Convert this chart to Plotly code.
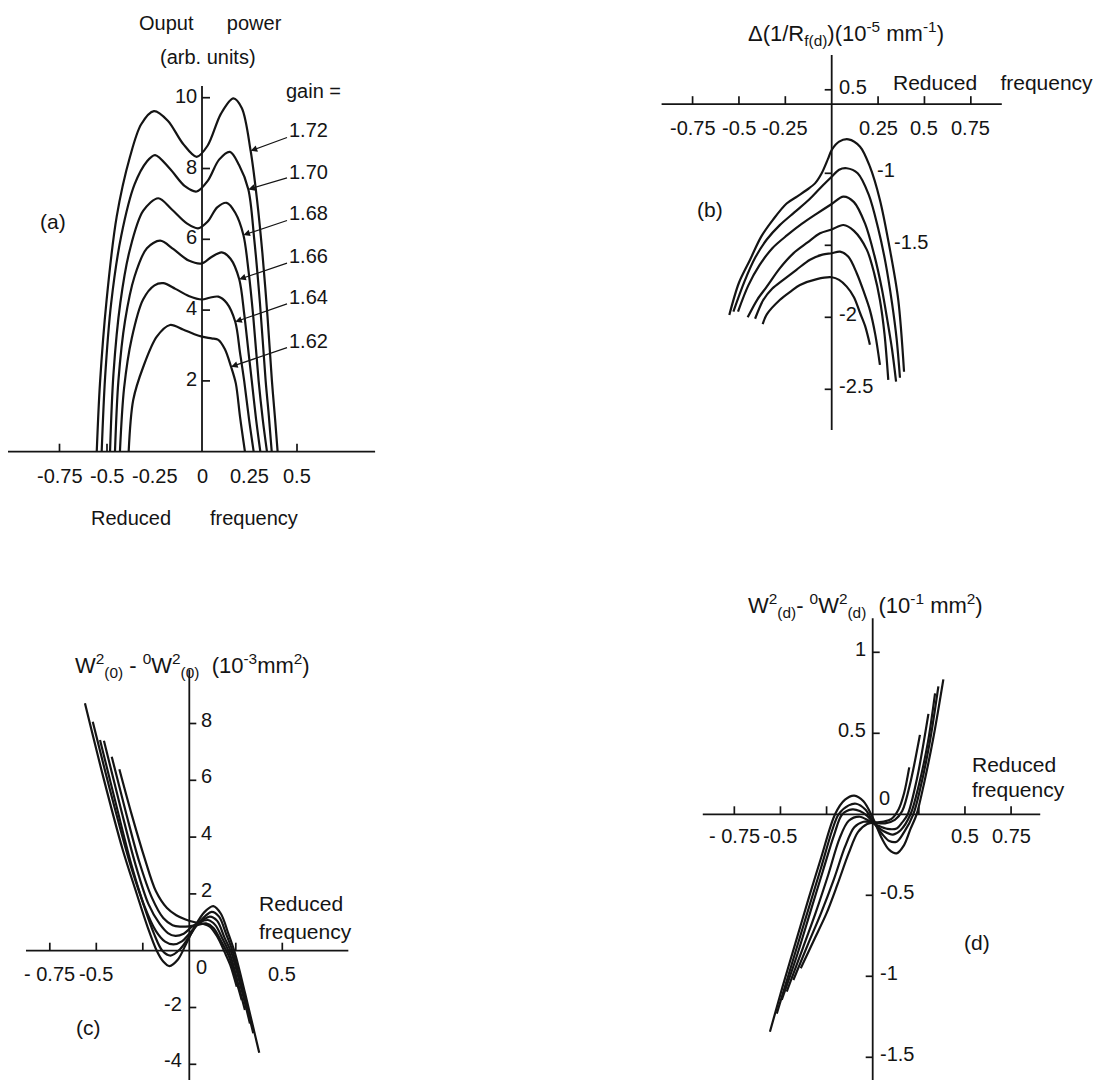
import plotly.graph_objects as go

W, H = 1099, 1080
FONT = "Liberation Sans"
INK = "#141414"
NB = "\u00a0"

# ---------------- (a) Output power vs reduced frequency ----------------
gain_labels = ["1.72", "1.70", "1.68", "1.66", "1.64", "1.62"]
a_x_172 = [-0.554, -0.537, -0.502, -0.449, -0.379, -0.32, -0.253, -0.18, -0.10, -0.028, 0.03, 0.10, 0.165, 0.21, 0.256, 0.29, 0.318, 0.345, 0.368, 0.385, 0.398]
a_y_172 = [0, 1.93, 4.29, 6.64, 8.33, 9.25, 9.62, 9.35, 8.7, 8.33, 8.65, 9.55, 9.98, 9.7, 8.5, 7.1, 5.6, 3.8, 2.0, 0.9, 0]
a_x_170 = [-0.528, -0.51, -0.478, -0.425, -0.355, -0.29, -0.247, -0.17, -0.09, -0.028, 0.03, 0.09, 0.147, 0.195, 0.244, 0.275, 0.305, 0.335, 0.352, 0.367]
a_y_170 = [0, 2.1, 4.2, 6.1, 7.55, 8.2, 8.38, 8.0, 7.5, 7.35, 7.65, 8.25, 8.47, 8.1, 7.41, 6.0, 4.2, 2.0, 1.0, 0]
a_x_168 = [-0.484, -0.466, -0.43, -0.38, -0.31, -0.23, -0.16, -0.08, -0.02, 0.03, 0.08, 0.13, 0.175, 0.218, 0.245, 0.27, 0.298, 0.32, 0.342]
a_y_168 = [0, 2.2, 4.2, 5.7, 6.8, 7.16, 6.85, 6.45, 6.31, 6.5, 6.9, 7.03, 6.75, 6.12, 5.1, 3.8, 2.0, 0.9, 0]
a_x_166 = [-0.458, -0.44, -0.405, -0.355, -0.29, -0.22, -0.15, -0.07, 0.0, 0.05, 0.104, 0.15, 0.196, 0.222, 0.245, 0.262, 0.285, 0.307]
a_y_166 = [0, 2.0, 3.7, 4.95, 5.75, 5.96, 5.72, 5.4, 5.32, 5.5, 5.63, 5.45, 4.87, 3.9, 2.8, 2.0, 0.9, 0]
a_x_164 = [-0.432, -0.41, -0.37, -0.31, -0.25, -0.204, -0.14, -0.07, 0.0, 0.04, 0.086, 0.13, 0.175, 0.2, 0.222, 0.248, 0.272]
a_y_164 = [0, 1.8, 3.2, 4.3, 4.7, 4.76, 4.6, 4.4, 4.30, 4.35, 4.38, 4.2, 3.67, 2.8, 2.0, 0.9, 0]
a_x_162 = [-0.386, -0.362, -0.309, -0.238, -0.168, -0.10, -0.04, 0.0, 0.05, 0.086, 0.12, 0.153, 0.178, 0.2, 0.226]
a_y_162 = [0, 1.46, 2.4, 3.25, 3.58, 3.45, 3.32, 3.25, 3.2, 3.16, 2.9, 2.40, 1.93, 0.99, 0]
a_arrow_tip_index = [14, 14, 13, 12, 12, 11]
a_label_x = 0.558
a_label_y = [9.09, 7.91, 6.73, 5.53, 4.38, 3.14]
a_xticks = [-0.75, -0.5, 0.5]
a_xlabel_vals = [-0.75, -0.5, -0.25, 0, 0.25, 0.5]
a_xlabel_text = ["-0.75", "-0.5", "-0.25", "0", "0.25", "0.5"]
a_yticks = [2, 4, 6, 8, 10]
a_ylabel_text = ["2", "4", "6", "8", "10"]

# ---------------- (b) Delta(1/Rf(d)) ----------------
b_x_1 = [-0.552, -0.50, -0.44, -0.38, -0.315, -0.243, -0.185, -0.135, -0.09, -0.054, -0.02, 0.0, 0.04, 0.09, 0.153, 0.206, 0.26, 0.314, 0.359, 0.39]
b_y_1 = [-1.984, -1.76, -1.60, -1.44, -1.32, -1.21, -1.16, -1.116, -1.07, -1.0, -0.90, -0.838, -0.78, -0.764, -0.815, -0.954, -1.185, -1.53, -1.88, -2.378]
b_x_2 = [-0.53, -0.47, -0.41, -0.35, -0.28, -0.2, -0.12, -0.06, 0.0, 0.04, 0.081, 0.14, 0.20, 0.25, 0.29, 0.325, 0.35, 0.368]
b_y_2 = [-1.96, -1.75, -1.58, -1.46, -1.36, -1.27, -1.18, -1.10, -1.024, -0.975, -0.965, -1.0, -1.15, -1.38, -1.62, -1.90, -2.15, -2.42]
b_x_3 = [-0.505, -0.45, -0.39, -0.32, -0.24, -0.16, -0.08, 0.0, 0.063, 0.12, 0.18, 0.23, 0.27, 0.30, 0.325, 0.347]
b_y_3 = [-1.96, -1.78, -1.64, -1.52, -1.43, -1.35, -1.28, -1.213, -1.162, -1.2, -1.35, -1.57, -1.80, -2.02, -2.22, -2.447]
b_x_4 = [-0.453, -0.40, -0.35, -0.28, -0.207, -0.13, -0.063, 0.0, 0.063, 0.12, 0.189, 0.23, 0.26, 0.285, 0.305]
b_y_4 = [-2.0, -1.875, -1.787, -1.66, -1.556, -1.48, -1.417, -1.39, -1.359, -1.40, -1.53, -1.70, -1.88, -2.12, -2.435]
b_x_5 = [-0.413, -0.369, -0.32, -0.261, -0.19, -0.117, -0.05, 0.0, 0.045, 0.09, 0.135, 0.175, 0.206, 0.235, 0.26]
b_y_5 = [-2.01, -1.88, -1.80, -1.74, -1.67, -1.60, -1.565, -1.555, -1.544, -1.58, -1.694, -1.83, -1.95, -2.12, -2.33]
b_x_6 = [-0.372, -0.35, -0.28, -0.22, -0.171, -0.08, 0.0, 0.04, 0.081, 0.12, 0.153, 0.18, 0.206]
b_y_6 = [-2.047, -1.98, -1.88, -1.82, -1.776, -1.735, -1.722, -1.74, -1.787, -1.86, -1.97, -2.06, -2.19]
b_xticks = [-0.75, -0.5, -0.25, 0.25, 0.5, 0.75]
b_xlabel_text = ["-0.75", "-0.5", "-0.25", "0.25", "0.5", "0.75"]
b_yticks = [-0.42, -1, -1.5, -2, -2.5]
b_ylabel_text = ["0.5", "-1", "-1.5", "-2", "-2.5"]
b_ylabel_dx = [5, 43, 60, 5, 5]
b_xaxis_at = -0.52

# ---------------- (c) W(0)^2 - 0W(0)^2 ----------------
c_x_1 = [-0.561, -0.46, -0.36, -0.285, -0.225, -0.175, -0.14, -0.107, -0.06, -0.02, 0.03, 0.08, 0.129, 0.17, 0.21, 0.246, 0.30, 0.376]
c_y_1 = [8.71, 6.05, 3.6, 2.05, 0.85, 0.0, -0.38, -0.54, -0.3, 0.2, 0.85, 1.35, 1.57, 1.3, 0.6, -0.1, -1.5, -3.59]
c_x_2 = [-0.519, -0.42, -0.32, -0.245, -0.19, -0.145, -0.10, -0.05, 0.0, 0.05, 0.12, 0.16, 0.20, 0.237, 0.29, 0.344]
c_y_2 = [8.06, 5.5, 3.1, 1.6, 0.6, 0.0, -0.17, 0.05, 0.5, 0.98, 1.37, 1.2, 0.55, -0.1, -1.45, -2.91]
c_x_3 = [-0.48, -0.39, -0.31, -0.24, -0.18, -0.13, -0.085, -0.04, 0.0, 0.05, 0.11, 0.15, 0.19, 0.228, 0.28, 0.326]
c_y_3 = [7.42, 5.05, 3.0, 1.55, 0.7, 0.32, 0.22, 0.33, 0.6, 0.95, 1.2, 1.05, 0.45, -0.1, -1.35, -2.56]
c_x_4 = [-0.459, -0.37, -0.29, -0.22, -0.16, -0.115, -0.075, -0.03, 0.01, 0.05, 0.10, 0.14, 0.18, 0.22, 0.26, 0.299]
c_y_4 = [7.39, 5.05, 3.05, 1.65, 0.95, 0.62, 0.52, 0.6, 0.82, 0.98, 1.08, 0.9, 0.4, -0.15, -1.1, -2.09]
c_x_5 = [-0.417, -0.34, -0.27, -0.20, -0.14, -0.09, -0.05, 0.0, 0.04, 0.09, 0.13, 0.17, 0.213, 0.25, 0.282]
c_y_5 = [6.83, 4.85, 3.15, 1.85, 1.15, 0.9, 0.85, 0.86, 0.9, 0.96, 0.8, 0.35, -0.2, -1.0, -1.74]
c_x_6 = [-0.376, -0.31, -0.24, -0.18, -0.12, -0.07, -0.02, 0.03, 0.07, 0.11, 0.15, 0.19, 0.22, 0.255]
c_y_6 = [6.39, 4.8, 3.25, 2.1, 1.5, 1.25, 1.1, 1.0, 0.95, 0.85, 0.5, -0.05, -0.5, -1.27]
c_xticks = [-0.75, -0.5, -0.25, 0.25, 0.5]
c_xlabel_vals = [-0.75, -0.5, 0.5]
c_xlabel_text = ["- 0.75", "-0.5", "0.5"]
c_yticks = [8, 6, 4, 2, -2, -4]
c_ylabel_text = ["8", "6", "4", "2", "-2", "-4"]
c_ylabel_side = [1, 1, 1, 1, -1, -1]

# ---------------- (d) W(d)^2 - 0W(d)^2 ----------------
d_x_1 = [-0.557, -0.49, -0.42, -0.35, -0.28, -0.204, -0.15, -0.10, -0.05, 0.0, 0.05, 0.09, 0.13, 0.17, 0.205, 0.238, 0.28, 0.33, 0.383]
d_y_1 = [-1.342, -1.07, -0.80, -0.53, -0.27, 0.0, 0.09, 0.115, 0.08, -0.02, -0.15, -0.22, -0.241, -0.19, -0.09, 0.0, 0.2, 0.48, 0.833]
d_x_2 = [-0.52, -0.44, -0.355, -0.28, -0.22, -0.185, -0.13, -0.09, -0.04, 0.0, 0.05, 0.09, 0.13, 0.17, 0.22, 0.26, 0.31, 0.356]
d_y_2 = [-1.23, -0.93, -0.61, -0.33, -0.1, 0.0, 0.055, 0.065, 0.03, -0.04, -0.12, -0.165, -0.169, -0.11, 0.0, 0.17, 0.45, 0.79]
d_x_3 = [-0.493, -0.41, -0.34, -0.27, -0.21, -0.165, -0.11, -0.07, -0.03, 0.01, 0.06, 0.11, 0.15, 0.205, 0.25, 0.30, 0.338]
d_y_3 = [-1.146, -0.87, -0.61, -0.35, -0.13, 0.0, 0.03, 0.02, -0.01, -0.06, -0.105, -0.125, -0.1, 0.0, 0.18, 0.45, 0.747]
d_x_4 = [-0.466, -0.38, -0.31, -0.24, -0.18, -0.13, -0.07, -0.02, 0.03, 0.08, 0.13, 0.16, 0.19, 0.24, 0.302]
d_y_4 = [-1.095, -0.83, -0.61, -0.37, -0.15, -0.04, -0.015, -0.04, -0.07, -0.09, -0.087, -0.05, 0.0, 0.22, 0.62]
d_x_5 = [-0.43, -0.35, -0.28, -0.21, -0.15, -0.10, -0.05, 0.0, 0.067, 0.12, 0.16, 0.205, 0.256]
d_y_5 = [-1.023, -0.80, -0.61, -0.40, -0.2, -0.08, -0.046, -0.05, -0.056, -0.035, 0.02, 0.2, 0.49]
d_x_6 = [-0.39, -0.32, -0.25, -0.19, -0.13, -0.08, -0.03, 0.02, 0.06, 0.1, 0.14, 0.17, 0.198]
d_y_6 = [-0.95, -0.78, -0.61, -0.43, -0.24, -0.11, -0.06, -0.05, -0.045, -0.03, 0.03, 0.13, 0.29]
d_xticks = [-0.75, -0.5, -0.25, 0.25, 0.5, 0.75]
d_xlabel_vals = [-0.75, -0.5, 0.5, 0.75]
d_xlabel_text = ["- 0.75", "-0.5", "0.5", "0.75"]
d_yticks = [1, 0.5, -0.5, -1, -1.5]
d_ylabel_text = ["1", "0.5", "-0.5", "-1", "-1.5"]
d_ytick_dir = [1, 1, -1, -1, -1]

# ---------------- layout geometry (pixels) ----------------
# box (left, top, right, bottom), origin pixel, pixels per unit
GEOM = {
    "a": dict(box=(0, 0, 480, 545), origin=(202, 451.7), scale=(190, 35.4)),
    "b": dict(box=(560, 0, 1099, 545), origin=(831.7, 29.3), scale=(185.5, 144)),
    "c": dict(box=(0, 560, 480, 1080), origin=(189.3, 950.7), scale=(186, 28.4)),
    "d": dict(box=(560, 560, 1099, 1080), origin=(872.7, 814.3), scale=(184.5, 162)),
}
AXIS_LINES = {  # (xmin, xmax, y where x-axis sits, ymin, ymax)
    "a": (-1.021, 0.911, 0.0, 0.0, 10.33),
    "b": (-0.917, 0.917, b_xaxis_at, -2.783, -0.178),
    "c": (-0.878, 0.855, 0.0, -4.7, 9.9),
    "d": (-0.921, 0.908, 0.0, -1.75, 1.21),
}


def paper(px, py):
    return px / W, 1 - py / H


fig = go.Figure()
layout = dict(width=W, height=H, margin=dict(l=0, r=0, t=0, b=0),
              paper_bgcolor="white", plot_bgcolor="white", showlegend=False,
              font=dict(family=FONT, size=20, color=INK))
shapes, annos = [], []
names = {"a": "", "b": "2", "c": "3", "d": "4"}

for key, g in GEOM.items():
    n = names[key]
    l, t, r, b = g["box"]
    ox, oy = g["origin"]
    sx, sy = g["scale"]
    layout["xaxis" + n] = dict(domain=[l / W, r / W], range=[(l - ox) / sx, (r - ox) / sx],
                               visible=False, fixedrange=True, anchor="y" + n)
    layout["yaxis" + n] = dict(domain=[1 - b / H, 1 - t / H], range=[(oy - b) / sy, (oy - t) / sy],
                               visible=False, fixedrange=True, anchor="x" + n)
    xmin, xmax, yc, ymin, ymax = AXIS_LINES[key]
    ax = dict(xref="x" + n, yref="y" + n)
    shapes.append(dict(type="line", x0=xmin, x1=xmax, y0=yc, y1=yc, line=dict(color=INK, width=1.8), **ax))
    shapes.append(dict(type="line", x0=0, x1=0, y0=ymin, y1=ymax, line=dict(color=INK, width=1.8), **ax))


def curve(xs, ys, n):
    fig.add_trace(go.Scatter(x=xs, y=ys, mode="lines", xaxis="x" + n, yaxis="y" + n,
                             line=dict(color=INK, width=2.2, shape="spline", smoothing=0.9),
                             hoverinfo="skip"))


def xticks(vals, n, yc, length=8):
    for v in vals:
        shapes.append(dict(type="line", xref="x" + n, yref="y" + n, ysizemode="pixel", yanchor=yc,
                           y0=0, y1=length, x0=v, x1=v, line=dict(color=INK, width=1.7)))


def yticks(vals, dirs, n, length=7):
    for v, d in zip(vals, dirs):
        shapes.append(dict(type="line", xref="x" + n, yref="y" + n, xsizemode="pixel", xanchor=0,
                           x0=0, x1=d * length, y0=v, y1=v, line=dict(color=INK, width=1.7)))


def xlabels(vals, texts, n, yc, dy=-24):
    for v, tx in zip(vals, texts):
        annos.append(dict(xref="x" + n, yref="y" + n, x=v, y=yc, text=tx, showarrow=False,
                          xanchor="center", yanchor="middle", yshift=dy, font=dict(size=20)))


def ylabel(v, tx, n, side, dx, dy=0):
    annos.append(dict(xref="x" + n, yref="y" + n, x=0, y=v, text=tx, showarrow=False,
                      xanchor="left" if side > 0 else "right", yanchor="middle",
                      xshift=side * dx, yshift=dy, font=dict(size=20)))


def text(px, py, tx, size=21, xanchor="center"):
    x, y = paper(px, py)
    annos.append(dict(xref="paper", yref="paper", x=x, y=y, text=tx, showarrow=False,
                      xanchor=xanchor, yanchor="middle", font=dict(size=size)))


# ----- panel (a)
a_curves = [(a_x_172, a_y_172), (a_x_170, a_y_170), (a_x_168, a_y_168),
            (a_x_166, a_y_166), (a_x_164, a_y_164), (a_x_162, a_y_162)]
for (xs, ys) in a_curves:
    curve(xs, ys, "")
for (xs, ys), gl, idx, ly in zip(a_curves, gain_labels, a_arrow_tip_index, a_label_y):
    annos.append(dict(xref="x", yref="y", x=xs[idx], y=ys[idx], ax=a_label_x, ay=ly,
                      axref="x", ayref="y", text=gl, showarrow=True, arrowhead=2,
                      arrowsize=1.1, arrowwidth=1.2, arrowcolor=INK, standoff=0,
                      font=dict(size=20)))
xticks(a_xticks, "", 0.0)
yticks(a_yticks, [1] * len(a_yticks), "", 8)
xlabels(a_xlabel_vals, a_xlabel_text, "", 0.0)
for v, tx in zip(a_yticks, a_ylabel_text):
    ylabel(v, tx, "", -1, 3, 2)
text(210, 23, "Ouput" + NB * 6 + "power", 20)
text(208, 57, "(arb. units)", 20)
text(284, 91, "gain =", 20, "left")
text(53, 222, "(a)", 21)
text(194, 518, "Reduced" + NB * 7 + "frequency", 20)

# ----- panel (b)
for xs, ys in [(b_x_1, b_y_1), (b_x_2, b_y_2), (b_x_3, b_y_3), (b_x_4, b_y_4), (b_x_5, b_y_5), (b_x_6, b_y_6)]:
    curve(xs, ys, "2")
xticks(b_xticks, "2", b_xaxis_at)
yticks(b_yticks, [-1] * len(b_yticks), "2", 7)
xlabels(b_xticks, b_xlabel_text, "2", b_xaxis_at)
for v, tx, dx in zip(b_yticks, b_ylabel_text, b_ylabel_dx):
    ylabel(v, tx, "2", 1, dx, 3)
text(846, 33, "\u0394(1/R<sub>f(d)</sub>)(10<sup>-5</sup>" + NB + "mm<sup>-1</sup>)", 22)
text(1095, 83, "Reduced" + NB * 4 + "frequency", 21, "right")
text(710, 210, "(b)", 21)

# ----- panel (c)
for xs, ys in [(c_x_1, c_y_1), (c_x_2, c_y_2), (c_x_3, c_y_3), (c_x_4, c_y_4), (c_x_5, c_y_5), (c_x_6, c_y_6)]:
    curve(xs, ys, "3")
xticks(c_xticks, "3", 0.0)
yticks(c_yticks, [1] * len(c_yticks), "3", 7)
xlabels(c_xlabel_vals, c_xlabel_text, "3", 0.0, -23)
for v, tx, s in zip(c_yticks, c_ylabel_text, c_ylabel_side):
    ylabel(v, tx, "3", s, 10 if s > 0 else 5, 4)
annos.append(dict(xref="x3", yref="y3", x=0, y=0, text="0", showarrow=False,
                  xanchor="center", yanchor="middle", xshift=12, yshift=-16, font=dict(size=20)))
text(192, 665, "W<sup>2</sup><sub>(0)</sub> - <sup>0</sup>W<sup>2</sup><sub>(0)</sub>" + NB * 2
     + "(10<sup>-3</sup>mm<sup>2</sup>)", 22)
text(257, 903, "Reduced", 21, "left")
text(257, 931, "frequency", 21, "left")
text(88, 1027, "(c)", 21)

# ----- panel (d)
for xs, ys in [(d_x_1, d_y_1), (d_x_2, d_y_2), (d_x_3, d_y_3), (d_x_4, d_y_4), (d_x_5, d_y_5), (d_x_6, d_y_6)]:
    curve(xs, ys, "4")
xticks(d_xticks, "4", 0.0)
yticks(d_yticks, d_ytick_dir, "4", 7)
xlabels(d_xlabel_vals, d_xlabel_text, "4", 0.0, -22)
for v, tx, s in zip(d_yticks, d_ylabel_text, d_ytick_dir):
    ylabel(v, tx, "4", -s, 5, 3)
annos.append(dict(xref="x4", yref="y4", x=0, y=0, text="0", showarrow=False,
                  xanchor="center", yanchor="middle", xshift=12, yshift=16, font=dict(size=20)))
text(865, 605, "W<sup>2</sup><sub>(d)</sub>- <sup>0</sup>W<sup>2</sup><sub>(d)</sub>" + NB * 2
     + "(10<sup>-1</sup>" + NB + "mm<sup>2</sup>)", 22)
text(970, 764, "Reduced", 21, "left")
text(970, 789, "frequency", 21, "left")
text(977, 942, "(d)", 21)

layout["shapes"] = shapes
layout["annotations"] = annos
fig.update_layout(**layout)
fig.write_html("out.html")
